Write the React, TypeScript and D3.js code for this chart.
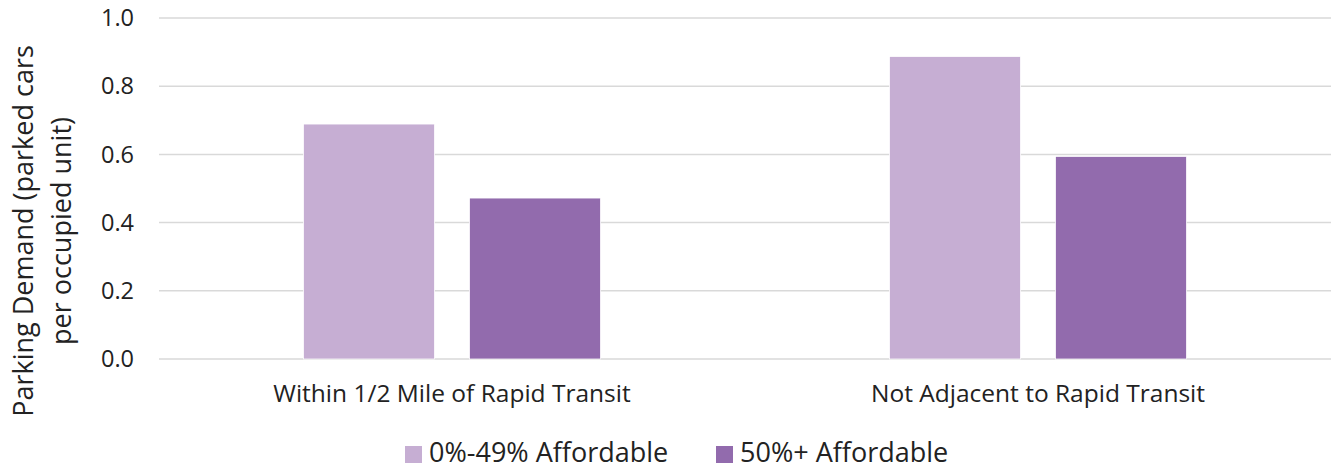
import React from "react";
import * as d3 from "d3";

const categories = ["Within 1/2 Mile of Rapid Transit", "Not Adjacent to Rapid Transit"];
const seriesNames = ["0%-49% Affordable", "50%+ Affordable"];
const lowAffordable = [0.689, 0.887];
const highAffordable = [0.472, 0.594];
const yTicks = [0, 0.2, 0.4, 0.6, 0.8, 1.0];
const colors = ["#C6AED3", "#926BAD"];

const width = 1333;
const height = 467;
const margin = { top: 18, right: 2, bottom: 108, left: 159 };
const font = "'Open Sans', 'Noto Sans', sans-serif";

const App = () => {
  const values = [lowAffordable, highAffordable];

  const x0 = d3
    .scaleBand()
    .domain(categories)
    .range([margin.left, width - margin.right]);

  const x1 = d3
    .scaleBand()
    .domain(seriesNames)
    .range([x0.bandwidth() * 0.2466, x0.bandwidth() * 0.7534])
    .paddingInner(0.211);

  const y = d3
    .scaleLinear()
    .domain([0, 1])
    .range([height - margin.bottom, margin.top]);

  // legend items side by side under the plot
  const legendX = [405, 716];

  return (
    <svg
      width={width}
      height={height}
      style={{ position: "absolute", left: 0, top: 0, background: "#fff" }}
      fontFamily={font}
    >
      {/* Gridlines */}
      {yTicks.map((t) => (
        <line
          key={t}
          x1={margin.left}
          x2={width - margin.right}
          y1={y(t)}
          y2={y(t)}
          stroke="#D9D9D9"
          strokeWidth={1.5}
        />
      ))}

      {/* Tick labels */}
      {yTicks.map((t) => (
        <text
          key={"l" + t}
          x={134}
          y={y(t)}
          dy="0.35em"
          textAnchor="end"
          fontSize={23.5}
          fill="#222"
        >
          {d3.format(".1f")(t)}
        </text>
      ))}

      {/* Bars */}
      {categories.map((c, i) => (
        <g key={c} transform={`translate(${x0(c)},0)`}>
          {seriesNames.map((s, j) => (
            <rect
              key={s}
              x={x1(s)}
              y={y(values[j][i])}
              width={x1.bandwidth()}
              height={y(0) - y(values[j][i])}
              fill={colors[j]}
              stroke="#fff"
              strokeWidth={0.75}
            />
          ))}
        </g>
      ))}

      {/* Category labels */}
      {categories.map((c) => (
        <text
          key={"c" + c}
          x={(x0(c) ?? 0) + x0.bandwidth() / 2}
          y={402}
          textAnchor="middle"
          fontSize={24.5}
          fill="#222"
        >
          {c}
        </text>
      ))}

      {/* Y axis title */}
      <text
        transform="translate(33,231) rotate(-90)"
        textAnchor="middle"
        fontSize={27}
        fill="#222"
      >
        <tspan x={0} dy={0}>Parking Demand (parked cars</tspan>
        <tspan x={0} dy={38}>per occupied unit)</tspan>
      </text>

      {/* Legend */}
      {seriesNames.map((s, j) => (
        <g key={"lg" + s} transform={`translate(${legendX[j]},0)`}>
          <rect x={0} y={446} width={17} height={17} fill={colors[j]} />
          <text x={24} y={462} fontSize={27} fill="#222">
            {s}
          </text>
        </g>
      ))}
    </svg>
  );
};

export default App;
